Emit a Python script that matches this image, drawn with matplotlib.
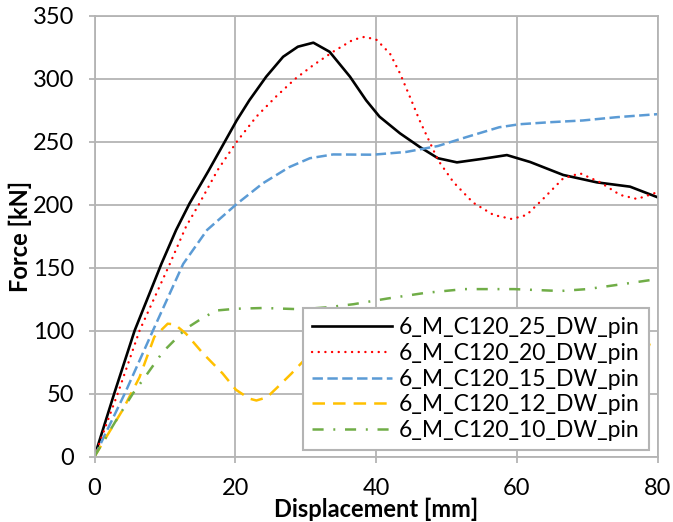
import matplotlib
matplotlib.use("Agg")
import matplotlib.pyplot as plt

plt.rcParams['font.family'] = ['Lato', 'DejaVu Sans']
plt.rcParams['lines.scale_dashes'] = False

# values (displacement mm, force kN)
x25 = [0, 2.8, 5.7, 9.5, 11.6, 13.5, 16.2, 18.1, 20.2, 22.0, 24.4, 26.8, 28.9, 31.1,
       33.4, 36.3, 38.6, 40.5, 43.4, 46.2, 48.8, 51.5, 55.1, 58.6, 61.9, 66.6, 71.4,
       76.1, 80]
y25 = [0, 50, 100, 153, 180, 201, 227, 246, 267, 283, 301.8, 317.6, 325.6, 328.8,
       321.6, 301.8, 283, 270, 256.8, 246, 237, 233.7, 236.5, 239.5, 234, 223.7, 217.8,
       214.4, 206]

x20 = [0, 3.3, 6.4, 10.7, 13.0, 14.9, 17.5, 20.2, 23.0, 25.8, 28.5, 31.1, 33.9, 36.7,
       38.4, 40.1, 42.0, 43.4, 44.8, 46.2, 47.7, 48.8, 51.0, 53.8, 56.7, 59.3, 61.4,
       63.8, 66.6, 69.0, 71.8, 74.7, 77.1, 80]
y20 = [0, 50, 100, 153, 182.6, 201, 227.6, 250, 270, 286, 300, 311, 321.6, 331,
       333.5, 331, 320, 304.5, 286, 267, 249, 235.6, 218, 201.7, 191.9, 188.7, 191.9,
       205, 221, 225, 218, 207.8, 204.6, 210]

x15 = [0, 4.3, 8.3, 12.6, 16.0, 20.2, 23.9, 27.7, 30.6, 33.9, 39.6, 44.3, 48.8, 52.8,
       57.5, 60.4, 64.7, 69.4, 74.2, 80]
y15 = [0, 50, 100, 153, 180, 200.6, 217, 230, 237, 240, 239.8, 242, 246.7, 253.7,
       261.6, 264, 265.6, 267, 269.6, 272]

x12 = [0, 4, 6.4, 8.5, 10.4, 11.4, 13, 15.4, 18.2, 20.1, 22, 23, 24.5, 26, 28, 29.7,
       33, 37, 45, 55, 65, 75, 80]
y12 = [0, 37, 63, 95, 105.5, 105, 97.6, 82, 66, 53, 46, 44.5, 47, 55, 66, 76,
       88, 97, 100, 98, 97, 95, 87]

x10 = [0, 3.1, 5.45, 6.9, 9.7, 13, 15.2, 17.3, 20.1, 24, 29.3, 33, 36.8, 41.6, 47,
       52.5, 59.6, 66.2, 70, 75.7, 80]
y10 = [0, 29, 50, 61, 83, 101.6, 109.5, 116, 117.4, 118, 117, 118.5, 121, 125.5, 130,
       133, 133, 131.5, 133, 137.5, 141]

labels = ['6_M_C120_25_DW_pin', '6_M_C120_20_DW_pin', '6_M_C120_15_DW_pin',
          '6_M_C120_12_DW_pin', '6_M_C120_10_DW_pin']

grid_c = '#b4b4b4'

fig = plt.figure(figsize=(6.73, 5.22), dpi=100)
ax = fig.add_axes([94.5 / 673, 1 - 456.5 / 522, 563 / 673, 440.5 / 522])

ax.plot(x25, y25, color='black', lw=1.9, label=labels[0])
ax.plot(x20, y20, color='#ff0000', lw=1.7, linestyle=(0, (0.1, 4.7)),
        dash_capstyle='round', label=labels[1])
ax.plot(x15, y15, color='#5b9bd5', lw=1.8, linestyle=(0, (7.5, 3.2)), label=labels[2])
ax.plot(x12, y12, color='#ffc000', lw=1.8, linestyle=(0, (9, 5.8)), label=labels[3])
ax.plot(x10, y10, color='#70ad47', lw=1.8, linestyle=(0, (8, 7, 1.4, 7)), label=labels[4])

ax.set_xlim(0, 80)
ax.set_ylim(0, 350)
ax.set_xticks([0, 20, 40, 60, 80])
ax.set_yticks(range(0, 351, 50))
ax.grid(True, color=grid_c, lw=1.3)
ax.set_axisbelow(True)
for s in ax.spines.values():
    s.set_color(grid_c)
    s.set_linewidth(1.3)
ax.tick_params(direction='out', length=4.5, width=1.3, color=grid_c,
               labelsize=17, pad=10)
ax.tick_params(axis='x', pad=11)

ax.set_xlabel('Displacement [mm]', fontsize=17, fontweight='bold', labelpad=-1)
ax.set_ylabel('Force [kN]', fontsize=17, fontweight='bold', labelpad=1)

leg = ax.legend(loc='lower left', bbox_to_anchor=(0.370, 0.015), borderaxespad=0,
                fontsize=16.5, handlelength=3.5, handletextpad=0.3, labelspacing=0.2,
                fancybox=False, framealpha=1, edgecolor=grid_c, borderpad=0.4)
leg.get_frame().set_linewidth(1.5)

fig.savefig('out.png', dpi=100)
